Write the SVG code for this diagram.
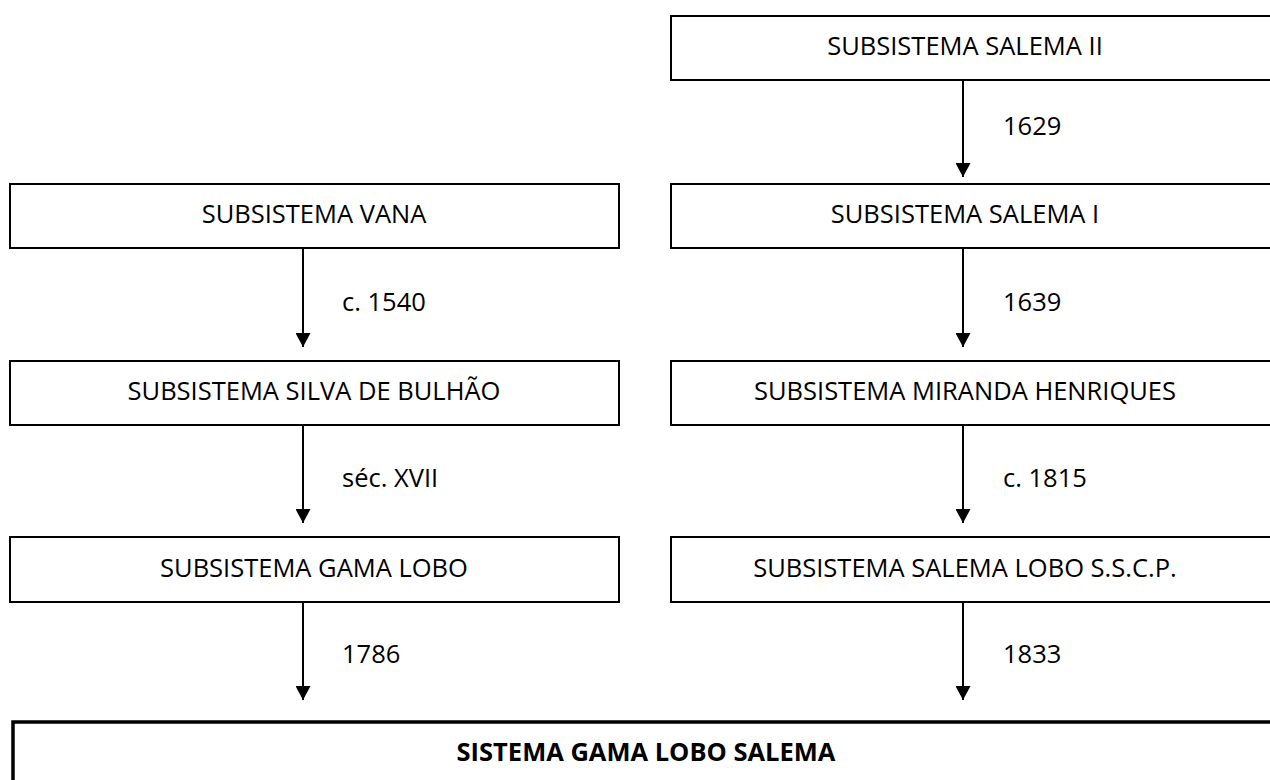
<svg xmlns="http://www.w3.org/2000/svg" width="1270" height="780" viewBox="0 0 1270 780">
  <style>
    .box { fill: #ffffff; stroke: #000000; stroke-width: 2; }
    .main { fill: #ffffff; stroke: #000000; stroke-width: 3.5; }
    .lbl { font-family: "Open Sans", "Liberation Sans", sans-serif; font-size: 25.5px; fill: #000000; }
    .ttl { text-anchor: middle; }
    .bold { font-weight: bold; }
    .edge { stroke: #000000; stroke-width: 2; fill: none; marker-end: url(#head); }
  </style>
  <defs>
    <!-- solid triangular arrowhead, tip on the line end -->
    <marker id="head" markerUnits="userSpaceOnUse" markerWidth="14" markerHeight="15" viewBox="0 0 14 15" refX="14" refY="7.5" orient="auto">
      <path d="M0,0 L14,7.5 L0,15 Z" fill="#000000"/>
    </marker>
  </defs>

  <!-- right column -->
  <g id="salema-ii">
    <rect class="box" x="671" y="16" width="620" height="64"/>
    <text class="lbl ttl" x="965" y="55">SUBSISTEMA SALEMA II</text>
  </g>
  <g id="salema-i">
    <rect class="box" x="671" y="184" width="620" height="64"/>
    <text class="lbl ttl" x="965" y="223">SUBSISTEMA SALEMA I</text>
  </g>
  <g id="miranda-henriques">
    <rect class="box" x="671" y="361" width="620" height="64"/>
    <text class="lbl ttl" x="965" y="400">SUBSISTEMA MIRANDA HENRIQUES</text>
  </g>
  <g id="salema-lobo">
    <rect class="box" x="671" y="537" width="620" height="65"/>
    <text class="lbl ttl" x="965" y="577">SUBSISTEMA SALEMA LOBO S.S.C.P.</text>
  </g>

  <!-- left column -->
  <g id="vana">
    <rect class="box" x="10" y="184" width="609" height="64"/>
    <text class="lbl ttl" x="314" y="223">SUBSISTEMA VANA</text>
  </g>
  <g id="silva-de-bulhao">
    <rect class="box" x="10" y="361" width="609" height="64"/>
    <text class="lbl ttl" x="314" y="400">SUBSISTEMA SILVA DE BULHÃO</text>
  </g>
  <g id="gama-lobo">
    <rect class="box" x="10" y="537" width="609" height="65"/>
    <text class="lbl ttl" x="314" y="577">SUBSISTEMA GAMA LOBO</text>
  </g>

  <!-- merged system -->
  <g id="gama-lobo-salema">
    <rect class="main" x="13" y="722" width="1300" height="120"/>
    <text class="lbl ttl bold" x="646" y="761" font-size="25px">SISTEMA GAMA LOBO SALEMA</text>
  </g>

  <!-- transfers between archives -->
  <g id="connectors">
    <line class="edge" x1="963" y1="80" x2="963" y2="177"/>
    <line class="edge" x1="963" y1="248" x2="963" y2="347"/>
    <line class="edge" x1="963" y1="425" x2="963" y2="523"/>
    <line class="edge" x1="963" y1="602" x2="963" y2="700"/>
    <line class="edge" x1="303" y1="248" x2="303" y2="347"/>
    <line class="edge" x1="303" y1="425" x2="303" y2="523"/>
    <line class="edge" x1="303" y1="602" x2="303" y2="700"/>
    <text class="lbl" x="1003" y="135">1629</text>
    <text class="lbl" x="1003" y="311">1639</text>
    <text class="lbl" x="1003" y="487">c. 1815</text>
    <text class="lbl" x="1003" y="663">1833</text>
    <text class="lbl" x="342" y="311">c. 1540</text>
    <text class="lbl" x="342" y="487">séc. XVII</text>
    <text class="lbl" x="342" y="663">1786</text>
  </g>
</svg>
